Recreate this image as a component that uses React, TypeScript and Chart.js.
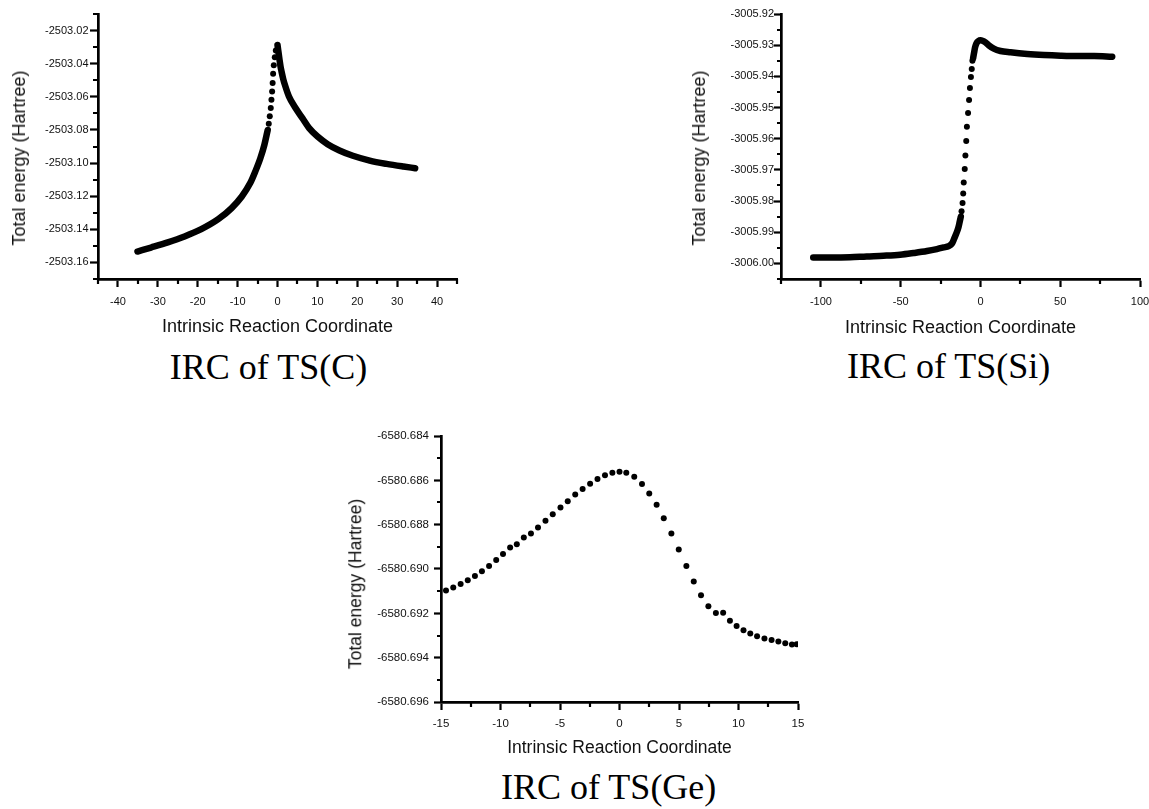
import React, { useEffect, useRef } from 'react';
import { Chart, registerables } from 'chart.js';

Chart.register(...registerables);

// ---------------- Data: IRC of TS(C) ----------------
const C_LEFT_BAND_X = [-35.1, -31.7, -27.5, -23.3, -19.1, -14.85, -11.5, -8.95, -6.84, -5.57, -4.3, -3.29, -2.45];
const C_LEFT_BAND_Y = [-2503.1534, -2503.151, -2503.1479, -2503.1443, -2503.1399, -2503.1339, -2503.1272, -2503.1202, -2503.1121, -2503.1051, -2503.0971, -2503.089, -2503.08];
const C_PEAK_DOTS_X = [-2.19, -1.94, -1.69, -1.52, -1.35, -1.22, -1.1, -0.93, -0.68, -0.42];
const C_PEAK_DOTS_Y = [-2503.0763, -2503.0717, -2503.0667, -2503.0618, -2503.0568, -2503.0516, -2503.046, -2503.0409, -2503.0361, -2503.0321];
const C_RIGHT_BAND_X = [0, 0.17, 0.51, 0.76, 1.01, 1.43, 1.86, 2.87, 4.56, 6.24, 7.93, 10.04, 12.57, 15.53, 18.9, 23.12, 27.34, 31.56, 34.51];
const C_RIGHT_BAND_Y = [-2503.0287, -2503.0317, -2503.0377, -2503.0417, -2503.0447, -2503.0492, -2503.0528, -2503.0598, -2503.0669, -2503.0729, -2503.0789, -2503.084, -2503.0886, -2503.0924, -2503.0956, -2503.0985, -2503.1005, -2503.1021, -2503.1031];
const C_X_MAJOR = [-40, -30, -20, -10, 0, 10, 20, 30, 40];
const C_X_MINOR = [-45, -35, -25, -15, -5, 5, 15, 25, 35, 45];
const C_Y_MAJOR = [-2503.16, -2503.14, -2503.12, -2503.1, -2503.08, -2503.06, -2503.04, -2503.02];
const C_Y_MINOR = [-2503.17, -2503.15, -2503.13, -2503.11, -2503.09, -2503.07, -2503.05, -2503.03, -2503.01];

// ---------------- Data: IRC of TS(Si) ----------------
const SI_LEFT_BAND_X = [-104.8, -92.2, -81.8, -71.3, -60.8, -50.3, -41.9, -33.5, -27.3, -23.1, -19.9, -17.8, -16.4, -15.1, -13.8, -13.0, -12.3];
const SI_LEFT_BAND_Y = [-3005.9981, -3005.9981, -3005.998, -3005.99775, -3005.99754, -3005.99722, -3005.99668, -3005.99604, -3005.9954, -3005.99487, -3005.99444, -3005.99358, -3005.99198, -3005.99037, -3005.98845, -3005.98663, -3005.985];
const SI_RISE_DOTS_X = [-11.84, -11.22, -10.8, -10.48, -9.85, -9.43, -8.91, -8.49, -7.76, -7.13, -6.6, -5.97, -5.45, -5.03];
const SI_RISE_DOTS_Y = [-3005.98326, -3005.98064, -3005.97754, -3005.97406, -3005.96968, -3005.96535, -3005.9607, -3005.95615, -3005.95176, -3005.94759, -3005.94374, -3005.94021, -3005.93765, -3005.93497];
const SI_RIGHT_BAND_X = [-4.61, -3.98, -3.35, -2.52, -1.26, 0, 1.26, 3.14, 5.24, 8.39, 12.58, 18.87, 29.35, 39.83, 50.31, 60.8, 71.28, 82.6];
const SI_RIGHT_BAND_Y = [-3005.93422, -3005.93241, -3005.9307, -3005.92941, -3005.92866, -3005.92845, -3005.92856, -3005.92909, -3005.93005, -3005.93112, -3005.93187, -3005.9323, -3005.93283, -3005.93316, -3005.93337, -3005.93348, -3005.93348, -3005.93369];
const SI_X_MAJOR = [-100, -50, 0, 50, 100];
const SI_X_MINOR = [-125, -75, -25, 25, 75];
const SI_Y_MAJOR = [-3006.0, -3005.99, -3005.98, -3005.97, -3005.96, -3005.95, -3005.94, -3005.93, -3005.92];
const SI_Y_MINOR = [-3006.005, -3005.995, -3005.985, -3005.975, -3005.965, -3005.955, -3005.945, -3005.935, -3005.925];

// ---------------- Data: IRC of TS(Ge) ----------------
const GE_X = [-14.58, -13.97, -13.35, -12.75, -12.15, -11.56, -10.96, -10.36, -9.79, -9.19, -8.63, -8.04, -7.44, -6.85, -6.22, -5.61, -4.96, -4.35, -3.72, -3.1, -2.47, -1.85, -1.22, -0.6, 0.0, 0.57, 1.24, 1.89, 2.5, 3.12, 3.72, 4.36, 4.98, 5.62, 6.24, 6.85, 7.47, 8.1, 8.71, 9.28, 9.84, 10.42, 10.99, 11.56, 12.18, 12.78, 13.35, 13.93, 14.49, 14.89];
const GE_Y = [-6580.69097, -6580.69083, -6580.69068, -6580.69051, -6580.69032, -6580.6901, -6580.68986, -6580.68959, -6580.68932, -6580.68903, -6580.68888, -6580.68858, -6580.6884, -6580.68813, -6580.68782, -6580.68753, -6580.68723, -6580.68694, -6580.68664, -6580.68639, -6580.68615, -6580.68594, -6580.68577, -6580.68566, -6580.68561, -6580.68566, -6580.68584, -6580.68617, -6580.68659, -6580.6871, -6580.68771, -6580.6884, -6580.68912, -6580.68987, -6580.69056, -6580.69118, -6580.69168, -6580.69198, -6580.69197, -6580.69233, -6580.69257, -6580.69276, -6580.69291, -6580.69303, -6580.69314, -6580.6932, -6580.69327, -6580.69335, -6580.69341, -6580.69339];
const GE_X_MAJOR = [-15, -10, -5, 0, 5, 10, 15];
const GE_X_MINOR = [-12.5, -7.5, -2.5, 2.5, 7.5, 12.5];
const GE_Y_MAJOR = [-6580.696, -6580.694, -6580.692, -6580.69, -6580.688, -6580.686, -6580.684];
const GE_Y_MINOR = [-6580.695, -6580.693, -6580.691, -6580.689, -6580.687, -6580.685];

// ---------------- Texts ----------------
const X_TITLE = 'Intrinsic Reaction Coordinate';
const Y_TITLE = 'Total energy (Hartree)';
const CAPTION_C = 'IRC of TS(C)';
const CAPTION_SI = 'IRC of TS(Si)';
const CAPTION_GE = 'IRC of TS(Ge)';

const SANS = '"Liberation Sans", Arial, Helvetica, sans-serif';
const SERIF = '"Liberation Serif", "Times New Roman", Times, serif';

type Pt = { x: number; y: number };
const zip = (xs: number[], ys: number[]): Pt[] => xs.map((x, i) => ({ x, y: ys[i] }));
const near = (a: number, b: number) => Math.abs(a - b) < 1e-7;

const BAND = {
  showLine: true,
  borderColor: '#000',
  backgroundColor: '#000',
  borderWidth: 6.5,
  pointRadius: 0,
  borderCapStyle: 'round',
  borderJoinStyle: 'round',
  cubicInterpolationMode: 'monotone',
};
const DOTS = (r: number) => ({
  showLine: false,
  borderColor: '#000',
  backgroundColor: '#000',
  pointBackgroundColor: '#000',
  pointBorderWidth: 0,
  pointRadius: r,
});

type Spec = {
  box: { left: number; top: number; w: number; h: number };
  padTop: number;
  padRight: number;
  yAxisW: number;
  xAxisH: number;
  xMin: number; xMax: number; yMin: number; yMax: number;
  xMajor: number[]; xMinor: number[]; yMajor: number[]; yMinor: number[];
  yDec: number;
  tickFont: number;
  titleFont: number;
  xTickLen: number; xTickPad: number; yTickLen: number; yTickPad: number;
  xMinorLen: number; yMinorLen: number;
  xTitlePadBottom: number;
  datasets: any[];
};

function makeMinorPlugin(s: Spec) {
  return {
    id: 'minorTicks',
    afterDraw(chart: any) {
      const { ctx, chartArea, scales } = chart;
      ctx.save();
      ctx.strokeStyle = '#000';
      ctx.lineWidth = 2.2;
      ctx.beginPath();
      for (const v of s.xMinor) {
        const px = Math.round(scales.x.getPixelForValue(v));
        ctx.moveTo(px, chartArea.bottom);
        ctx.lineTo(px, chartArea.bottom + s.xMinorLen);
      }
      for (const v of s.yMinor) {
        const py = Math.round(scales.y.getPixelForValue(v));
        ctx.moveTo(chartArea.left, py);
        ctx.lineTo(chartArea.left - s.yMinorLen, py);
      }
      ctx.stroke();
      ctx.restore();
    },
  };
}

function buildConfig(s: Spec): any {
  const xMaj = (v: number) => s.xMajor.some((m) => near(m, v));
  const yMaj = (v: number) => s.yMajor.some((m) => near(m, v));
  const tickFont = { family: SANS, size: s.tickFont };
  return {
    type: 'scatter',
    data: { datasets: s.datasets },
    options: {
      animation: false,
      responsive: true,
      maintainAspectRatio: false,
      events: [],
      layout: { padding: { top: s.padTop, right: s.padRight, left: 0, bottom: 0 } },
      plugins: { legend: { display: false }, tooltip: { enabled: false } },
      scales: {
        x: {
          type: 'linear',
          min: s.xMin,
          max: s.xMax,
          afterBuildTicks: (sc: any) => {
            sc.ticks = [...s.xMajor, ...s.xMinor].sort((a, b) => a - b).map((v) => ({ value: v }));
          },
          afterFit: (sc: any) => {
            sc.height = s.xAxisH;
          },
          grid: {
            display: true,
            drawOnChartArea: false,
            drawTicks: true,
            tickLength: s.xTickLen,
            tickWidth: 2.2,
            tickColor: (c: any) => (c.tick && xMaj(c.tick.value) ? '#000' : 'rgba(0,0,0,0)'),
          },
          border: { display: true, color: '#000', width: 2.7 },
          ticks: {
            autoSkip: false,
            maxRotation: 0,
            minRotation: 0,
            padding: s.xTickPad,
            color: '#111',
            font: tickFont,
            callback: (v: number) => (xMaj(v) ? String(Math.round(v)) : ''),
          },
          title: {
            display: true,
            text: X_TITLE,
            color: '#111',
            font: { family: SANS, size: s.titleFont },
            padding: { top: 0, bottom: s.xTitlePadBottom },
          },
        },
        y: {
          type: 'linear',
          min: s.yMin,
          max: s.yMax,
          afterBuildTicks: (sc: any) => {
            sc.ticks = [...s.yMajor, ...s.yMinor].sort((a, b) => a - b).map((v) => ({ value: v }));
          },
          afterFit: (sc: any) => {
            sc.width = s.yAxisW;
          },
          grid: {
            display: true,
            drawOnChartArea: false,
            drawTicks: true,
            tickLength: s.yTickLen,
            tickWidth: 2.2,
            tickColor: (c: any) => (c.tick && yMaj(c.tick.value) ? '#000' : 'rgba(0,0,0,0)'),
          },
          border: { display: true, color: '#000', width: 2.7 },
          ticks: {
            autoSkip: false,
            padding: s.yTickPad,
            color: '#111',
            font: tickFont,
            callback: (v: number) => (yMaj(v) ? v.toFixed(s.yDec) : ''),
          },
          title: { display: false },
        },
      },
    },
    plugins: [makeMinorPlugin(s)],
  };
}

const SPEC_C: Spec = {
  box: { left: 0, top: 0, w: 470, h: 345 },
  padTop: 14, padRight: 13, yAxisW: 98, xAxisH: 66,
  xMin: -45, xMax: 45, yMin: -2503.17, yMax: -2503.01,
  xMajor: C_X_MAJOR, xMinor: C_X_MINOR, yMajor: C_Y_MAJOR, yMinor: C_Y_MINOR,
  yDec: 2, tickFont: 11, titleFont: 18,
  xTickLen: 8, xTickPad: 8, yTickLen: 8, yTickPad: 1.5,
  xMinorLen: 5, yMinorLen: 5,
  xTitlePadBottom: 7.5,
  datasets: [
    { data: zip(C_LEFT_BAND_X, C_LEFT_BAND_Y), ...BAND },
    { data: zip(C_PEAK_DOTS_X, C_PEAK_DOTS_Y), ...DOTS(3) },
    { data: zip(C_RIGHT_BAND_X, C_RIGHT_BAND_Y), ...BAND },
  ],
};

const SPEC_SI: Spec = {
  box: { left: 680, top: 0, w: 480, h: 345 },
  padTop: 14, padRight: 20, yAxisW: 101, xAxisH: 66,
  xMin: -125, xMax: 100, yMin: -3006.005, yMax: -3005.92,
  xMajor: SI_X_MAJOR, xMinor: SI_X_MINOR, yMajor: SI_Y_MAJOR, yMinor: SI_Y_MINOR,
  yDec: 2, tickFont: 11, titleFont: 18,
  xTickLen: 8, xTickPad: 8, yTickLen: 7, yTickPad: 0,
  xMinorLen: 5, yMinorLen: 4,
  xTitlePadBottom: 6.5,
  datasets: [
    { data: zip(SI_LEFT_BAND_X, SI_LEFT_BAND_Y), ...BAND },
    { data: zip(SI_RISE_DOTS_X, SI_RISE_DOTS_Y), ...DOTS(3) },
    { data: zip(SI_RIGHT_BAND_X, SI_RIGHT_BAND_Y), ...BAND },
  ],
};

const SPEC_GE: Spec = {
  box: { left: 340, top: 420, w: 480, h: 345 },
  padTop: 16, padRight: 22, yAxisW: 101, xAxisH: 63,
  xMin: -15, xMax: 15, yMin: -6580.696, yMax: -6580.684,
  xMajor: GE_X_MAJOR, xMinor: GE_X_MINOR, yMajor: GE_Y_MAJOR, yMinor: GE_Y_MINOR,
  yDec: 3, tickFont: 11.5, titleFont: 17.5,
  xTickLen: 8, xTickPad: 6.5, yTickLen: 7, yTickPad: 5,
  xMinorLen: 5, yMinorLen: 4,
  xTitlePadBottom: 6,
  datasets: [{ data: zip(GE_X, GE_Y), ...DOTS(3) }],
};

function IrcChart({ spec }: { spec: Spec }) {
  const ref = useRef<HTMLCanvasElement | null>(null);
  useEffect(() => {
    if (!ref.current) return;
    const chart = new Chart(ref.current, buildConfig(spec));
    return () => chart.destroy();
  }, [spec]);
  return (
    <div style={{ position: 'absolute', left: spec.box.left, top: spec.box.top, width: spec.box.w, height: spec.box.h }}>
      <canvas ref={ref} />
    </div>
  );
}

function YTitle({ cx, cy, size }: { cx: number; cy: number; size: number }) {
  return (
    <div
      style={{
        position: 'absolute',
        left: cx,
        top: cy,
        transform: 'translate(-50%, -50%) rotate(-90deg)',
        whiteSpace: 'nowrap',
        fontFamily: SANS,
        fontSize: size,
        lineHeight: `${size}px`,
        color: '#111',
      }}
    >
      {Y_TITLE}
    </div>
  );
}

function Caption({ cx, top, text }: { cx: number; top: number; text: string }) {
  return (
    <div
      style={{
        position: 'absolute',
        left: cx - 200,
        width: 400,
        top,
        textAlign: 'center',
        fontFamily: SERIF,
        fontSize: 36,
        lineHeight: '36px',
        color: '#000',
        whiteSpace: 'nowrap',
      }}
    >
      {text}
    </div>
  );
}

export default function App() {
  return (
    <div style={{ position: 'absolute', left: 0, top: 0, width: 1149, height: 809, overflow: 'hidden', background: '#fff' }}>
      <IrcChart spec={SPEC_C} />
      <IrcChart spec={SPEC_SI} />
      <IrcChart spec={SPEC_GE} />
      <YTitle cx={18.5} cy={157.5} size={18} />
      <YTitle cx={699} cy={158} size={18} />
      <YTitle cx={356} cy={584} size={17.5} />
      <Caption cx={268.5} top={348.7} text={CAPTION_C} />
      <Caption cx={948.7} top={347.7} text={CAPTION_SI} />
      <Caption cx={608.7} top={768.7} text={CAPTION_GE} />
    </div>
  );
}
